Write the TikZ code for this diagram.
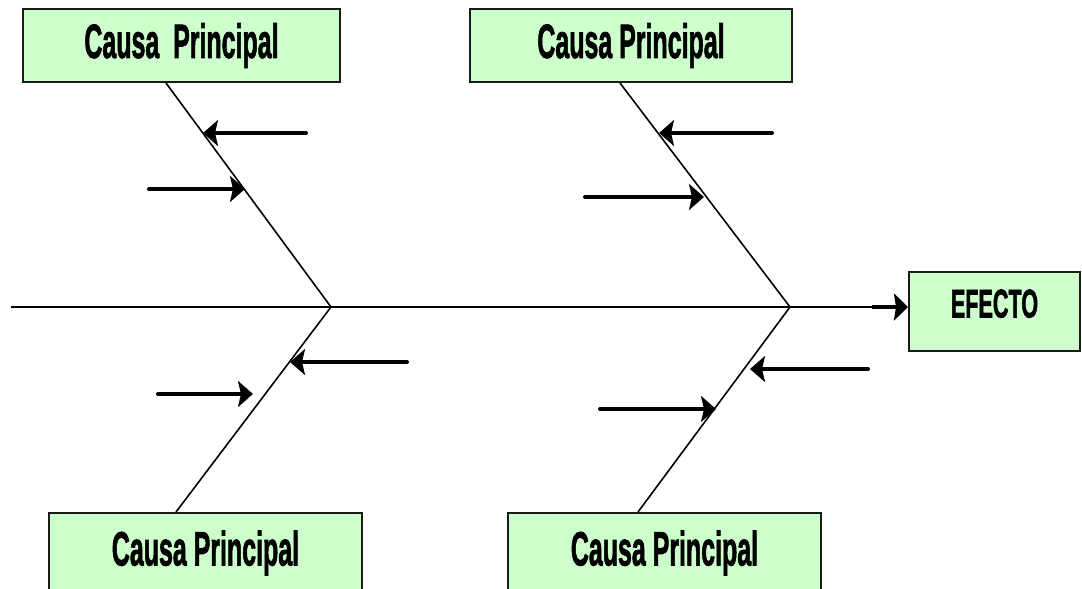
\documentclass[tikz,border=0pt]{standalone}
\usepackage{fontspec}
\setmainfont{Liberation Sans}[BoldFeatures={FakeBold=2}]
\usetikzlibrary{arrows.meta}

% condensed heavy lettering used in the boxes
\newcommand{\causetext}[1]{\scalebox{0.52}[1]{\fontsize{48pt}{48pt}\selectfont\bfseries #1}}
\newcommand{\effecttext}[1]{\scalebox{0.54}[1]{\fontsize{40pt}{40pt}\selectfont\bfseries #1}}

\definecolor{boxgreen}{HTML}{CCFFCC}
\definecolor{boxline}{HTML}{1A1A1A}

\tikzset{
  causebox/.style={draw=boxline, line width=2pt, fill=boxgreen, inner sep=0pt, rectangle},
  bone/.style={line width=1.6pt, draw=black},
  subcause/.style={line width=4pt, line cap=round,
    -{Stealth[length=15pt,width=26pt,inset=3pt]}},
  effectarrow/.style={line width=4pt,
    -{Stealth[length=14pt,width=27pt,inset=2pt]}},
}

\begin{document}
\begin{tikzpicture}[x=1pt,y=-1pt]
\useasboundingbox (0,0) rectangle (1082,589);
\clip (0,0) rectangle (1082,589);

% main cause boxes
\node[causebox, minimum width=317pt, minimum height=73pt] (c1) at (181.5,45.5)
  {\causetext{Causa~~Principal}};
\node[causebox, minimum width=322pt, minimum height=73pt] (c2) at (631,45.5)
  {\causetext{Causa Principal}};
\node[causebox, minimum width=313pt, minimum height=80pt] (c3) at (205.5,553)
  {\raisebox{2pt}{\causetext{Causa Principal}}};
\node[causebox, minimum width=313pt, minimum height=80pt] (c4) at (664.5,553)
  {\raisebox{2pt}{\causetext{Causa Principal}}};

% effect box
\node[causebox, minimum width=171pt, minimum height=79pt] (ef) at (994.5,311.5)
  {\raisebox{16pt}{\effecttext{EFECTO}}};

% spine
\coordinate (tail) at (11,307);
\coordinate (j1) at (331,307);
\coordinate (j2) at (790,307);
\coordinate (sp) at (872,307);
\draw[bone] (tail) -- (j1) -- (j2) -- (sp);
\draw[effectarrow] (sp) -- (sp -| ef.west);

% bones
\draw[bone] ([xshift=-15.5pt]c1.south) -- (j1);
\draw[bone] ([xshift=-11pt]c2.south) -- (j2);
\draw[bone] ([xshift=-29.5pt]c3.north) -- (j1);
\draw[bone] ([xshift=-26.5pt]c4.north) -- (j2);

% secondary causes, upper left
\coordinate (a1s) at (306,133);  \coordinate (a1t) at (203,133);
\coordinate (a2s) at (149,189);  \coordinate (a2t) at (245,189);
% upper right
\coordinate (b1s) at (772,133);  \coordinate (b1t) at (659,133);
\coordinate (b2s) at (585,197);  \coordinate (b2t) at (704,197);
% lower left
\coordinate (d1s) at (407,362);  \coordinate (d1t) at (290,362);
\coordinate (d2s) at (158,394);  \coordinate (d2t) at (253,394);
% lower right
\coordinate (e1s) at (868,369);  \coordinate (e1t) at (750,369);
\coordinate (e2s) at (600,409);  \coordinate (e2t) at (716,409);

\foreach \s/\t in {a1s/a1t,a2s/a2t,b1s/b1t,b2s/b2t,d1s/d1t,d2s/d2t,e1s/e1t,e2s/e2t}
  \draw[subcause] (\s) -- (\t);
\end{tikzpicture}
\end{document}
